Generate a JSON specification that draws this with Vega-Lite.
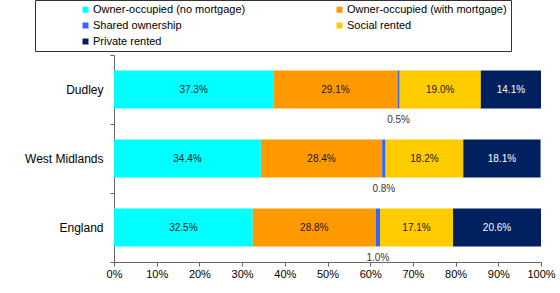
{
  "$schema": "https://vega.github.io/schema/vega-lite/v6.json",
  "autosize": {"type": "none"},
  "padding": {"left": 114, "top": 55, "right": 19, "bottom": 31},
  "width": 427,
  "height": 207,
  "background": "white",
  "config": {"view": {"stroke": null}, "font": "Liberation Sans"},
  "data": {
    "values": [
      {"region": "Dudley", "category": "Owner-occupied (no mortgage)", "order": 1, "value": 0.373},
      {"region": "Dudley", "category": "Owner-occupied (with mortgage)", "order": 2, "value": 0.291},
      {"region": "Dudley", "category": "Shared ownership", "order": 3, "value": 0.005},
      {"region": "Dudley", "category": "Social rented", "order": 4, "value": 0.190},
      {"region": "Dudley", "category": "Private rented", "order": 5, "value": 0.141},
      {"region": "West Midlands", "category": "Owner-occupied (no mortgage)", "order": 1, "value": 0.344},
      {"region": "West Midlands", "category": "Owner-occupied (with mortgage)", "order": 2, "value": 0.284},
      {"region": "West Midlands", "category": "Shared ownership", "order": 3, "value": 0.008},
      {"region": "West Midlands", "category": "Social rented", "order": 4, "value": 0.182},
      {"region": "West Midlands", "category": "Private rented", "order": 5, "value": 0.181},
      {"region": "England", "category": "Owner-occupied (no mortgage)", "order": 1, "value": 0.325},
      {"region": "England", "category": "Owner-occupied (with mortgage)", "order": 2, "value": 0.288},
      {"region": "England", "category": "Shared ownership", "order": 3, "value": 0.010},
      {"region": "England", "category": "Social rented", "order": 4, "value": 0.171},
      {"region": "England", "category": "Private rented", "order": 5, "value": 0.206}
    ]
  },
  "encoding": {
    "y": {
      "field": "region",
      "type": "nominal",
      "sort": ["Dudley", "West Midlands", "England"],
      "scale": {"paddingInner": 0, "paddingOuter": 0},
      "axis": {
        "title": null,
        "labelFontSize": 12,
        "labelFont": "Liberation Sans",
        "labelColor": "#000000",
        "tickSize": 4,
        "labelPadding": 7,
        "tickBand": "extent",
        "domainColor": "#666666",
        "tickColor": "#666666"
      }
    },
    "order": {"field": "order", "type": "quantitative"}
  },
  "layer": [
    {
      "mark": {"type": "bar", "height": {"band": 0.55}},
      "encoding": {
        "x": {
          "field": "value",
          "type": "quantitative",
          "stack": "zero",
          "scale": {"domain": [0, 1], "nice": false},
          "axis": {
            "title": null,
            "format": "%",
            "values": [0, 0.1, 0.2, 0.3, 0.4, 0.5, 0.6, 0.7, 0.8, 0.9, 1],
            "grid": false,
            "labelFontSize": 11,
            "labelFont": "Liberation Sans",
            "labelColor": "#000000",
            "labelFlush": false,
            "tickSize": 4,
            "labelPadding": 2,
            "domainColor": "#666666",
            "tickColor": "#666666"
          }
        },
        "color": {
          "field": "category",
          "type": "nominal",
          "scale": {
            "domain": ["Owner-occupied (no mortgage)", "Owner-occupied (with mortgage)", "Shared ownership", "Social rented", "Private rented"],
            "range": ["#00FFFF", "#FF9900", "#3366FF", "#FFCC00", "#002060"]
          },
          "legend": {
            "orient": "none",
            "legendX": -79,
            "legendY": -55,
            "direction": "horizontal",
            "columns": 2,
            "title": " ",
            "titleOrient": "left",
            "titleFontSize": 11,
            "titlePadding": 41,
            "padding": 4,
            "strokeColor": "#333333",
            "fillColor": "white",
            "symbolType": "square",
            "symbolSize": 36,
            "symbolStrokeWidth": 0,
            "symbolOpacity": 1,
            "labelOffset": 2,
            "labelFontSize": 11,
            "labelFont": "Liberation Sans",
            "labelColor": "#000000",
            "labelLimit": 400,
            "columnPadding": 88,
            "rowPadding": 4,
            "labelExpr": "datum.label === 'Owner-occupied (with mortgage)' ? datum.label + '\u00a0\u00a0\u00a0\u00a0\u00a0\u00a0\u00a0\u00a0\u00a0\u00a0\u00a0\u00a0\u00a0\u00a0' : datum.label"
          }
        }
      }
    },
    {
      "mark": {"type": "text", "fontSize": 10, "font": "Liberation Sans"},
      "encoding": {
        "x": {"field": "value", "type": "quantitative", "stack": "zero", "bandPosition": 0.5},
        "text": {
          "field": "value",
          "type": "quantitative",
          "format": ".1%",
          "condition": {"test": "datum.category === 'Shared ownership'", "value": ""}
        },
        "color": {
          "condition": {"test": "datum.category === 'Private rented'", "value": "#FFFFFF"},
          "value": "#1a1a1a"
        }
      }
    },
    {
      "mark": {"type": "text", "fontSize": 10, "font": "Liberation Sans", "yOffset": 30, "color": "#333333"},
      "encoding": {
        "x": {"field": "value", "type": "quantitative", "stack": "zero", "bandPosition": 0.5},
        "text": {
          "field": "value",
          "type": "quantitative",
          "format": ".1%",
          "condition": {"test": "datum.category !== 'Shared ownership'", "value": ""}
        }
      }
    }
  ]
}
